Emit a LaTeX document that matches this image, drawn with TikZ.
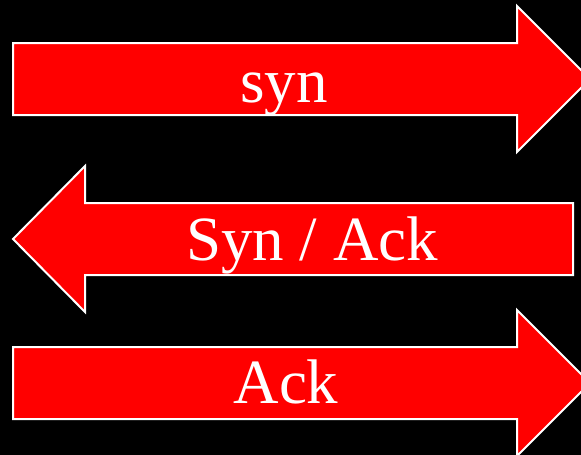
\documentclass[tikz,border=0pt]{standalone}
\usepackage{fontspec}
\setmainfont{Liberation Serif}
\begin{document}
\begin{tikzpicture}[x=1pt,y=-1pt,
  block/.style={fill=red,draw=white,line width=2pt,line join=miter},
  lbl/.style={text=white,font=\fontsize{63}{63}\selectfont,anchor=base,inner sep=0pt}]
\useasboundingbox (0,0) rectangle (581,455);
\fill[black] (0,0) rectangle (581,455);
\begin{scope}
\clip (0,0) rectangle (581,455);
% right-pointing arrow, top row
\draw[block] (13,43) -- (517,43) -- (517,6) -- (590,79) -- (517,152) -- (517,115) -- (13,115) -- cycle;
% left-pointing arrow, middle row
\draw[block] (573,203) -- (85,203) -- (85,166) -- (13,239) -- (85,312) -- (85,275) -- (573,275) -- cycle;
% right-pointing arrow, bottom row
\draw[block] (13,347) -- (517,347) -- (517,310) -- (590,383) -- (517,456) -- (517,419) -- (13,419) -- cycle;
\end{scope}
\node[lbl] (syn) at (284,102) {syn};
\node[lbl] (synack) at (312,260) {Syn / Ack};
\node[lbl] (ack) at (286,403) {Ack};
\end{tikzpicture}
\end{document}
